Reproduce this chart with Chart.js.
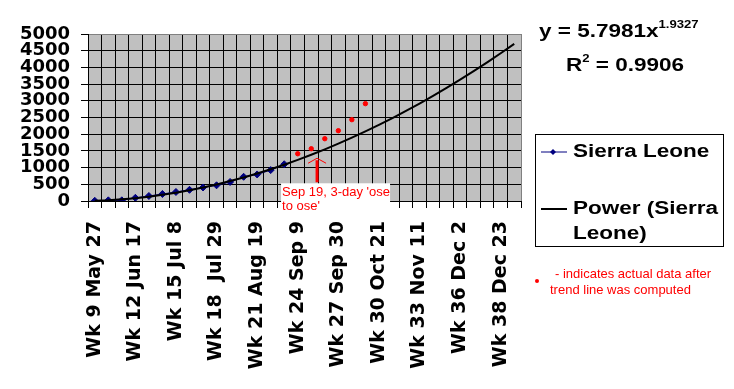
<!DOCTYPE html>
<html>
<head>
<meta charset="utf-8">
<script src="https://cdn.jsdelivr.net/npm/chart.js@4"></script>
<style>
  body { margin: 0; background: #fff; }
  #wrap { position: relative; width: 734px; height: 389px; overflow: hidden; }
  #chart { position: absolute; left: 0; top: 0; }
  .big { position: absolute; font: bold 18px "Liberation Sans", Arial, sans-serif; line-height: 18px;
         white-space: nowrap; transform: scaleX(1.25); transform-origin: left top; color: #000; }
  .big sup { font-size: 10.5px; position: relative; top: -9px; vertical-align: baseline; }
  #legendBox { position: absolute; left: 535px; top: 134px; width: 189px; height: 113px;
               border: 1px solid #000; box-sizing: border-box; }
  .note { position: absolute; font: 13px "Liberation Sans", Arial, sans-serif; color: #ff0000;
          line-height: 16px; white-space: nowrap; }
</style>
</head>
<body>
<div id="wrap">
  <canvas id="chart" width="734" height="389"></canvas>
  <div class="big" style="left:539px; top:22px;">y = 5.7981x<sup>1.9327</sup></div>
  <div class="big" style="left:566px; top:56px;">R<sup>2</sup> = 0.9906</div>
  <div id="legendBox"></div>
  <svg style="position:absolute; left:540px; top:147px;" width="28" height="10">
    <line x1="1" y1="5" x2="27" y2="5" stroke="#000080" stroke-width="1"/>
    <polygon points="13,2 16,5 13,8 10,5" fill="#000080"/>
  </svg>
  <div class="big" style="left:573px; top:142px;">Sierra Leone</div>
  <svg style="position:absolute; left:540px; top:204px;" width="28" height="10">
    <line x1="1" y1="5" x2="27" y2="5" stroke="#000" stroke-width="2"/>
  </svg>
  <div class="big" style="left:573px; top:196px; line-height:25px;">Power (Sierra<br>Leone)</div>
  <svg style="position:absolute; left:534px; top:278px;" width="6" height="6">
    <circle cx="3" cy="3" r="2" fill="#ff0000"/>
  </svg>
  <div class="note" style="left:555px; top:266px;">- indicates actual data after</div>
  <div class="note" style="left:550px; top:282px;">trend line was computed</div>
</div>
<script>
// week categories, only every third one carries a label
const weekLabels = [
  'Wk 9 May 27', '', '', 'Wk 12 Jun 17', '', '', 'Wk 15 Jul 8', '', '',
  'Wk 18  Jul 29', '', '', 'Wk 21 Aug 19', '', '', 'Wk 24 Sep 9', '', '',
  'Wk 27 Sep 30', '', '', 'Wk 30 Oct 21', '', '', 'Wk 33 Nov 11', '', '',
  'Wk 36 Dec 2', '', '', 'Wk 38 Dec 23', ''
];

// cumulative cases used for the fit
const sierraLeone = [5, 20, 20, 95, 150, 210, 270, 335, 405, 470, 570, 725, 795, 925, 1100];

// actual data reported after the trend line was computed
const laterData = [null, null, null, null, null, null, null, null, null, null, null, null, null, null, null,
  1415, 1565, 1865, 2105, 2435, 2915];

// power trend line
const powerTrend = [6, 22, 49, 85, 130, 185, 249, 323, 405, 497, 597, 706, 825, 952, 1087, 1232,
  1385, 1547, 1717, 1896, 2083, 2279, 2484, 2697, 2918, 3148, 3387, 3633, 3888, 4151, 4423, 4705];

const yTicks = [0, 500, 1000, 1500, 2000, 2500, 3000, 3500, 4000, 4500, 5000];

// annotation: Sep 19 sits between week index 16 and 17
const noteWeek = 16 + 3 / 7;
const noteArrowFrom = 560;
const noteArrowTo = 1280;
const noteLines = ["Sep 19, 3-day 'ose", "to ose'"];

const plotBackground = {
  id: 'plotBackground',
  beforeDraw(chart) {
    const a = chart.chartArea;
    const ctx = chart.ctx;
    ctx.save();
    ctx.fillStyle = '#c0c0c0';
    ctx.fillRect(a.left, a.top, a.right - a.left, a.bottom - a.top);
    ctx.restore();
  }
};

const arrowNote = {
  id: 'arrowNote',
  afterDraw(chart) {
    const xs = chart.scales.x, ys = chart.scales.y;
    const ctx = chart.ctx;
    const step = xs.getPixelForValue(17) - xs.getPixelForValue(16);
    const x = xs.getPixelForValue(16) + (noteWeek - 16) * step;
    const yTip = ys.getPixelForValue(noteArrowTo);
    const yBase = ys.getPixelForValue(noteArrowFrom);
    ctx.save();
    ctx.strokeStyle = '#ff0000';
    ctx.lineWidth = 3;
    ctx.beginPath();
    ctx.moveTo(x, yBase);
    ctx.lineTo(x, yTip + 2);
    ctx.stroke();
    ctx.lineWidth = 1;
    ctx.beginPath();
    ctx.moveTo(x - 9, yTip + 5);
    ctx.lineTo(x, yTip);
    ctx.lineTo(x + 9, yTip + 5);
    ctx.stroke();
    // white label box
    const bx = x - 36, by = yBase + 1;
    ctx.fillStyle = '#fff';
    ctx.fillRect(bx, by, 109, 31);
    ctx.fillStyle = '#ff0000';
    ctx.font = '13px "Liberation Sans", Arial, sans-serif';
    ctx.textBaseline = 'alphabetic';
    ctx.fillText(noteLines[0], bx + 1, by + 13);
    ctx.fillText(noteLines[1], bx + 1, by + 27);
    ctx.restore();
  }
};

new Chart(document.getElementById('chart'), {
  type: 'line',
  data: {
    labels: weekLabels,
    datasets: [
      {
        label: 'Power (Sierra Leone)',
        data: powerTrend,
        borderColor: '#000000',
        borderWidth: 2,
        pointRadius: 0,
        tension: 0,
        order: 0
      },
      {
        label: 'Sierra Leone',
        data: sierraLeone,
        borderColor: '#000080',
        backgroundColor: '#000080',
        borderWidth: 1,
        pointStyle: 'rectRot',
        pointRadius: 3.5,
        tension: 0,
        order: 1
      },
      {
        label: 'later',
        data: laterData,
        showLine: false,
        borderColor: '#ff0000',
        backgroundColor: '#ff0000',
        pointStyle: 'circle',
        pointRadius: 2.2,
        order: 2
      }
    ]
  },
  options: {
    responsive: false,
    animation: false,
    layout: { padding: { left: 0, top: 34, right: 213, bottom: 0 } },
    plugins: { legend: { display: false }, tooltip: { enabled: false } },
    scales: {
      x: {
        offset: true,
        grid: {
          offset: true,
          color: ctx => ctx.type === 'tick' ? '#000' : '#808080',
          tickColor: '#000',
          tickLength: 7
        },
        border: { color: '#000' },
        ticks: {
          autoSkip: false,
          minRotation: 90,
          maxRotation: 90,
          padding: 13,
          color: '#000',
          font: { family: 'DejaVu Sans', size: 19, weight: 'bold' }
        },
        afterFit(scale) { scale.height = 188; }
      },
      y: {
        min: yTicks[0],
        max: yTicks[yTicks.length - 1],
        grid: {
          color: ctx => (ctx.tick && ctx.tick.value === 5000) ? '#808080' : '#000',
          tickColor: '#000',
          tickLength: 7
        },
        border: { color: '#000' },
        ticks: {
          stepSize: 500,
          autoSkip: false,
          padding: 11,
          color: '#000',
          font: { family: 'DejaVu Sans', size: 18, weight: 'bold' },
          callback: v => String(v)
        },
        afterFit(scale) { scale.width = 88; }
      }
    }
  },
  plugins: [plotBackground, arrowNote]
});
</script>
</body>
</html>
